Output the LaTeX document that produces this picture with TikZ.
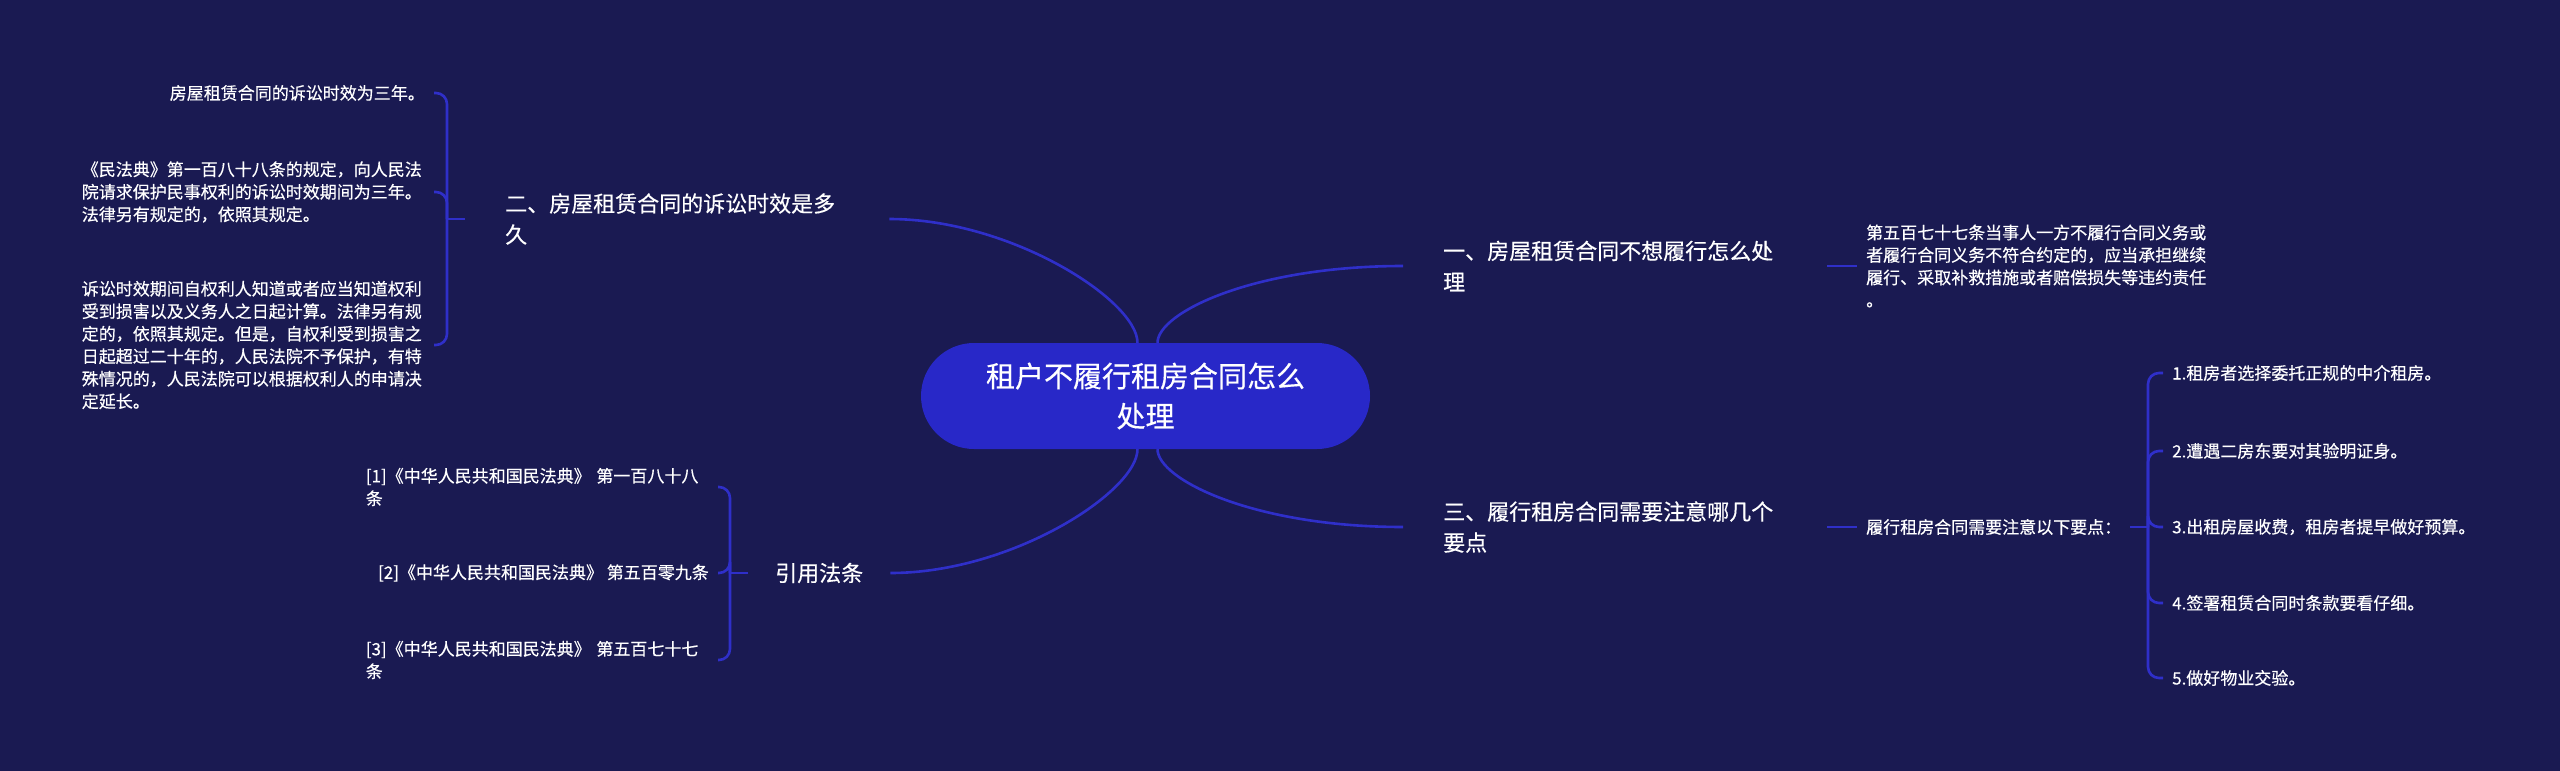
\documentclass[tikz,border=0pt]{standalone}
\usepackage{fontspec}
\setmainfont{Noto Sans CJK SC}[FakeBold=0.4]
\usepackage{xcolor}
\usetikzlibrary{positioning}
\definecolor{bgnavy}{HTML}{1A1A52}
\definecolor{rootblue}{HTML}{2828C8}
\definecolor{linkblue}{HTML}{2F2FC9}

\begin{document}
\begin{tikzpicture}[x=1pt, y=-1pt,
    root/.style={rectangle, rounded corners=53pt, fill=rootblue, text=white,
                 minimum width=449pt, minimum height=106pt, align=center,
                 font=\fontsize{29}{40}\selectfont},
    topic/.style={text=white, align=left, inner xsep=27pt, inner ysep=0pt,
                  font=\fontsize{22}{31}\selectfont},
    longtopic/.style={topic, text width=344pt, inner xsep=40pt},
    leaf/.style={text=white, align=left, inner xsep=9pt, inner ysep=0pt,
                 font=\fontsize{17}{22.5}\selectfont},
    wideleaf/.style={leaf, text width=343pt},
    conn/.style={draw=linkblue, line width=2.6pt},
    brace/.style={conn, rounded corners=11pt}
]
\fill[bgnavy] (0,0) rectangle (2560,771);
\useasboundingbox (0,0) rectangle (2560,771);

\node[root] (root) at (1145.5,396) {租户不履行租房合同怎么\\处理};

% main branches
\node[longtopic, anchor=west] (q2) at (465,219) {二、房屋租赁合同的诉讼时效是多\\久};
\node[topic, anchor=west]     (qc) at (748,573) {引用法条};
\node[longtopic, anchor=west] (q1) at (1403,266) {一、房屋租赁合同不想履行怎么处\\理};
\node[longtopic, anchor=west] (q3) at (1403,527) {三、履行租房合同需要注意哪几个\\要点};

\draw[conn] ([xshift=-8pt]root.north) .. controls +(0,-42) and +(122,0) .. (q2.east);
\draw[conn] ([xshift=-8pt]root.south) .. controls +(0,42) and +(122,0) .. (qc.east);
\draw[conn] ([xshift=12pt]root.north) .. controls +(0,-30) and +(-150,0) .. (q1.west);
\draw[conn] ([xshift=12pt]root.south) .. controls +(0,30) and +(-150,0) .. (q3.west);

% limitation period
\node[leaf, anchor=east]     (a1) at (434,93) {房屋租赁合同的诉讼时效为三年。};
\node[wideleaf, anchor=east] (a2) at (434,192) {《民法典》第一百八十八条的规定，向人民法\\院请求保护民事权利的诉讼时效期间为三年。\\法律另有规定的，依照其规定。};
\node[wideleaf, anchor=east] (a3) at (434,345) {诉讼时效期间自权利人知道或者应当知道权利\\受到损害以及义务人之日起计算。法律另有规\\定的，依照其规定。但是，自权利受到损害之\\日起超过二十年的，人民法院不予保护，有特\\殊情况的，人民法院可以根据权利人的申请决\\定延长。};
\coordinate (jl) at ([xshift=-18pt]q2.west);
\draw[conn] (q2.west) -- (jl);
\foreach \n in {a1,a2,a3} \draw[brace] (jl) |- (\n.east);

% cited articles
\node[wideleaf, anchor=east] (c1) at (718,487) {[1]《中华人民共和国民法典》~第一百八十八\\条};
\node[leaf, anchor=east]     (c2) at (718,573) {[2]《中华人民共和国民法典》~第五百零九条};
\node[wideleaf, anchor=east] (c3) at (718,660) {[3]《中华人民共和国民法典》~第五百七十七\\条};
\coordinate (jc) at ([xshift=-18pt]qc.west);
\draw[conn] (qc.west) -- (jc);
\foreach \n in {c1,c2,c3} \draw[brace] (jc) |- (\n.east);

% breach
\node[wideleaf, anchor=west] (d1) at (1857,266) {第五百七十七条当事人一方不履行合同义务或\\者履行合同义务不符合约定的，应当承担继续\\履行、采取补救措施或者赔偿损失等违约责任\\。};
\draw[conn] (q1.east) -- (d1.west);

% key points
\node[leaf, anchor=west] (k) at (1857,527) {履行租房合同需要注意以下要点：};
\draw[conn] (q3.east) -- (k.west);
\coordinate (jr) at (2148,527);
\draw[conn] (k.east) -- (jr);
\node[leaf, anchor=west] (r1) at (2163,373) {1.租房者选择委托正规的中介租房。};
\node[leaf, anchor=west] (r2) at (2163,451) {2.遭遇二房东要对其验明证身。};
\node[leaf, anchor=west] (r3) at (2163,527) {3.出租房屋收费，租房者提早做好预算。};
\node[leaf, anchor=west] (r4) at (2163,603) {4.签署租赁合同时条款要看仔细。};
\node[leaf, anchor=west] (r5) at (2163,678) {5.做好物业交验。};
\foreach \n in {r1,r2,r3,r4,r5} \draw[brace] (jr) |- (\n.west);
\end{tikzpicture}
\end{document}
